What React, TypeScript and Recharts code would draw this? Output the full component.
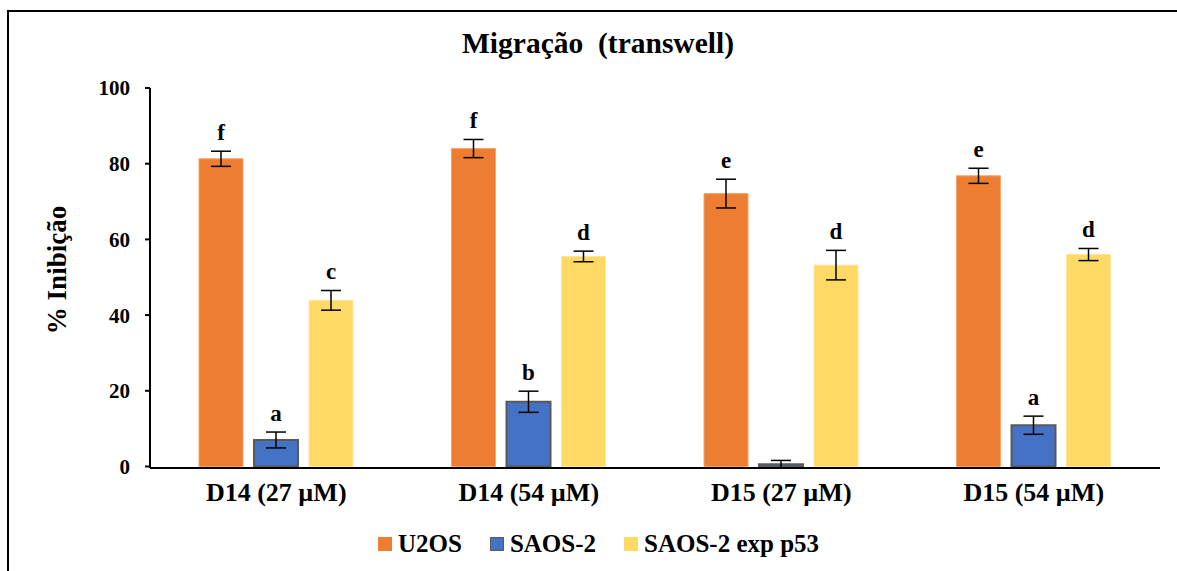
import { Bar, BarChart, ErrorBar, LabelList, Legend, XAxis, YAxis } from 'recharts';

const categories = ['D14 (27 µM)', 'D14 (54 µM)', 'D15 (27 µM)', 'D15 (54 µM)'];

const u2os = [81.3, 84.0, 72.1, 76.8];
const u2osErr = [2.0, 2.4, 3.8, 2.0];
const u2osLetters = ['f', 'f', 'e', 'e'];

const saos2 = [7.0, 17.1, 0.6, 10.9];
const saos2Err = [2.1, 2.8, 1.0, 2.4];
const saos2Letters = ['a', 'b', '', 'a'];

const saosP53 = [43.9, 55.5, 53.2, 56.0];
const saosP53Err = [2.6, 1.4, 3.9, 1.6];
const saosP53Letters = ['c', 'd', 'd', 'd'];

const yTicks = [0, 20, 40, 60, 80, 100];

const SERIES = [
  { key: 'u2os', name: 'U2OS', color: '#ED7D31', stroke: '#F4A46C', strokeWidth: 1 },
  { key: 'saos2', name: 'SAOS-2', color: '#4472C4', stroke: '#595959', strokeWidth: 2 },
  { key: 'saosP53', name: 'SAOS-2 exp p53', color: '#FFD966', stroke: '#FFE699', strokeWidth: 1 },
] as const;

const data = categories.map((name, i) => ({
  name,
  u2os: u2os[i],
  u2osErr: u2osErr[i],
  u2osLetter: u2osLetters[i],
  saos2: saos2[i],
  saos2Err: saos2Err[i],
  saos2Letter: saos2Letters[i],
  saosP53: saosP53[i],
  saosP53Err: saosP53Err[i],
  saosP53Letter: saosP53Letters[i],
}));

const FONT = 'Liberation Serif, DejaVu Serif, serif';

// letter placed just above the top of the error bar
function letterLabel(errs: number[], values: number[], letters: string[]) {
  return (props: any) => {
    const { x, y, width, height, index } = props;
    const letter = letters[index];
    if (!letter) return null;
    const ppu = Math.abs(height) / values[index];
    const top = y - errs[index] * ppu;
    return (
      <text
        x={x + width / 2}
        y={top - 11}
        textAnchor="middle"
        fontFamily={FONT}
        fontWeight="bold"
        fontSize={23}
        fill="#000"
      >
        {letter}
      </text>
    );
  };
}

function LegendContent() {
  return (
    <div style={{ display: 'flex', alignItems: 'center', fontFamily: FONT, fontWeight: 'bold', fontSize: 25 }}>
      {SERIES.map((s) => (
        <div key={s.key} style={{ display: 'flex', alignItems: 'center', marginRight: 28 }}>
          <span
            style={{
              display: 'inline-block',
              width: 14,
              height: 14,
              boxSizing: 'border-box',
              background: s.color,
              border: s.key === 'saos2' ? '1px solid #595959' : 'none',
              marginRight: 6,
            }}
          />
          <span>{s.name}</span>
        </div>
      ))}
    </div>
  );
}

export default function App() {
  return (
    <div
      style={{
        position: 'fixed',
        top: 10,
        left: 7,
        width: 1175,
        height: 565,
        borderTop: '2px solid #000',
        borderLeft: '2px solid #000',
        background: '#fff',
      }}
    >
      <div
        style={{
          position: 'absolute',
          top: 15,
          left: 0,
          width: 1178,
          textAlign: 'center',
          fontFamily: FONT,
          fontWeight: 'bold',
          fontSize: 29.5,
          whiteSpace: 'pre',
        }}
      >
        {'Migração  (transwell)'}
      </div>
      <BarChart
        width={1168}
        height={559}
        data={data}
        margin={{ top: 76, right: 17, left: 0, bottom: 63 }}
        barSize={44}
        barGap={11}
      >
        <YAxis
          width={141}
          domain={[0, 100]}
          ticks={yTicks}
          tickSize={5}
          tickMargin={15}
          axisLine={{ stroke: '#000', strokeWidth: 2 }}
          tickLine={{ stroke: '#000', strokeWidth: 2 }}
          tick={{ fill: '#000', fontFamily: FONT, fontWeight: 'bold', fontSize: 21 }}
          label={(props: any) => {
            const vb = props.viewBox;
            const cx = 48;
            const cy = vb.y + vb.height / 2 - 8;
            return (
              <text
                x={cx}
                y={cy}
                transform={`rotate(-90 ${cx} ${cy})`}
                textAnchor="middle"
                dominantBaseline="central"
                fontFamily={FONT}
                fontWeight="bold"
                fontSize={27}
                fill="#000"
              >
                % Inibição
              </text>
            );
          }}
        />
        <XAxis
          dataKey="name"
          height={40}
          tickSize={0}
          tickMargin={15}
          axisLine={{ stroke: '#000', strokeWidth: 2 }}
          tick={{ fill: '#000', fontFamily: FONT, fontWeight: 'bold', fontSize: 26 }}
        />
        <Legend
          layout="horizontal"
          verticalAlign="middle"
          align="center"
          wrapperStyle={{ top: 518, left: 369, width: 'auto' }}
          content={() => <LegendContent />}
        />
        <Bar
          dataKey="u2os"
          name="U2OS"
          fill={SERIES[0].color}
          stroke={SERIES[0].stroke}
          strokeWidth={SERIES[0].strokeWidth}
          isAnimationActive={false}
        >
          <ErrorBar dataKey="u2osErr" width={10} stroke="#000" strokeWidth={1.5} />
          <LabelList dataKey="u2osLetter" content={letterLabel(u2osErr, u2os, u2osLetters)} />
        </Bar>
        <Bar
          dataKey="saos2"
          name="SAOS-2"
          fill={SERIES[1].color}
          stroke={SERIES[1].stroke}
          strokeWidth={SERIES[1].strokeWidth}
          isAnimationActive={false}
        >
          <ErrorBar dataKey="saos2Err" width={10} stroke="#000" strokeWidth={1.5} />
          <LabelList dataKey="saos2Letter" content={letterLabel(saos2Err, saos2, saos2Letters)} />
        </Bar>
        <Bar
          dataKey="saosP53"
          name="SAOS-2 exp p53"
          fill={SERIES[2].color}
          stroke={SERIES[2].stroke}
          strokeWidth={SERIES[2].strokeWidth}
          isAnimationActive={false}
        >
          <ErrorBar dataKey="saosP53Err" width={10} stroke="#000" strokeWidth={1.5} />
          <LabelList dataKey="saosP53Letter" content={letterLabel(saosP53Err, saosP53, saosP53Letters)} />
        </Bar>
      </BarChart>
    </div>
  );
}
